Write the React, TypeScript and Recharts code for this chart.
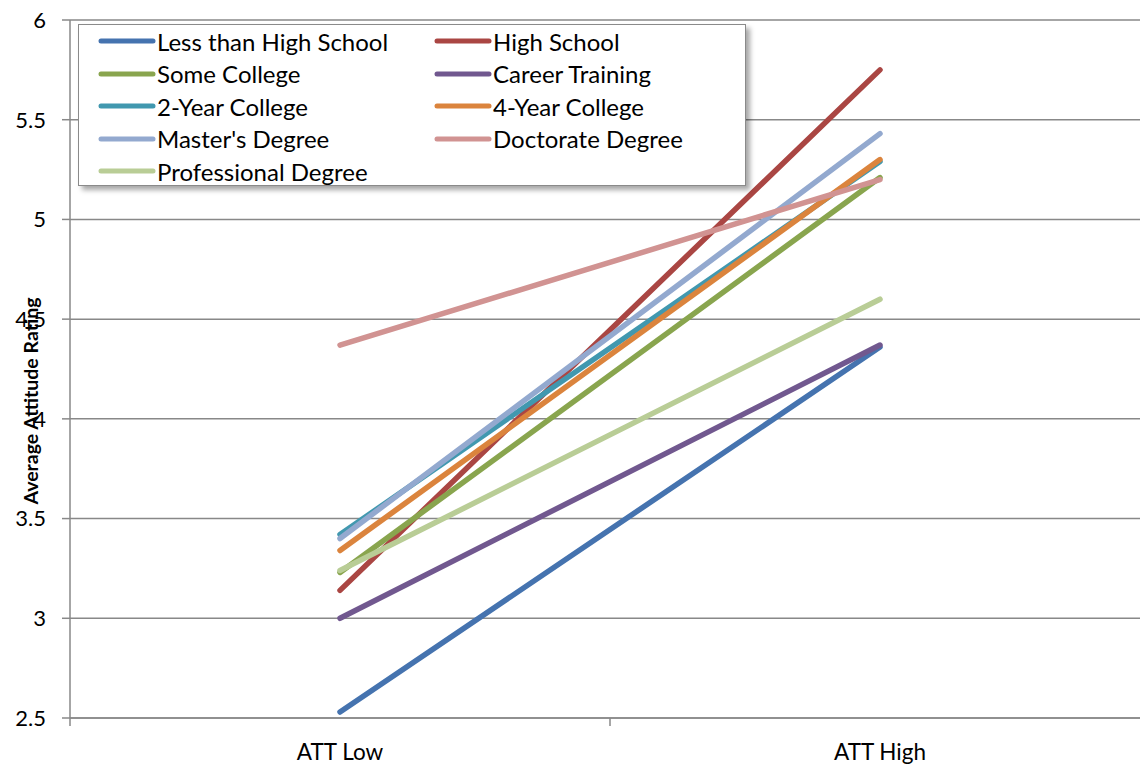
import React from "react";
import { LineChart, Line, XAxis, YAxis, CartesianGrid, Legend } from "recharts";

const categories = ["ATT Low", "ATT High"];
const yTicks = [2.5, 3, 3.5, 4, 4.5, 5, 5.5, 6];

const lessThanHS = [2.53, 4.36];
const highSchool = [3.14, 5.75];
const someCollege = [3.23, 5.21];
const careerTraining = [3.0, 4.37];
const twoYearCollege = [3.42, 5.29];
const fourYearCollege = [3.34, 5.3];
const mastersDegree = [3.4, 5.43];
const doctorateDegree = [4.37, 5.2];
const professionalDegree = [3.24, 4.6];

const seriesNames = [
  "Less than High School",
  "High School",
  "Some College",
  "Career Training",
  "2-Year College",
  "4-Year College",
  "Master's Degree",
  "Doctorate Degree",
  "Professional Degree",
];
const seriesValues = [
  lessThanHS,
  highSchool,
  someCollege,
  careerTraining,
  twoYearCollege,
  fourYearCollege,
  mastersDegree,
  doctorateDegree,
  professionalDegree,
];
const seriesColors = [
  "#4573AF",
  "#AA4643",
  "#89A54E",
  "#71588F",
  "#4198AF",
  "#DB843D",
  "#93A9CF",
  "#D19392",
  "#B9CD96",
];

const data = categories.map((c, i) => {
  const row: Record<string, string | number> = { category: c };
  seriesNames.forEach((n, s) => {
    row[n] = seriesValues[s][i];
  });
  return row;
});

const FONT = "Lato, 'Liberation Sans', sans-serif";
const CHART_W = 1160;
const CHART_H = 767;
const MARGIN = { top: 20, right: 10, left: 0, bottom: 0 };
const Y_W = 70;
const PLOT_W = CHART_W - MARGIN.left - MARGIN.right - Y_W;
const HALF_BAND = PLOT_W / categories.length / 2;

const XTick = (props: any) => {
  const { x, y, payload } = props;
  return (
    <g>
      <line x1={x - HALF_BAND} x2={x - HALF_BAND} y1={y - 8} y2={y} stroke="#888" strokeWidth={1.5} />
      <text x={x} y={y + 34} textAnchor="middle" fontSize={22.5} fontFamily={FONT} fill="#000">
        {payload.value}
      </text>
    </g>
  );
};

const LegendBox = () => {
  return (
    <div
      style={{
        width: 668,
        height: 162,
        background: "#fff",
        border: "1px solid #8a8a8a",
        boxShadow: "4px 4px 5px rgba(0,0,0,0.35)",
        boxSizing: "border-box",
        display: "grid",
        gridTemplateColumns: "336px 300px",
        gridAutoRows: "32.5px",
        paddingTop: 0,
        paddingLeft: 19,
        fontFamily: FONT,
        fontSize: 24,
        color: "#000",
      }}
    >
      {seriesNames.map((n, i) => (
        <div key={n} style={{ display: "flex", alignItems: "center", whiteSpace: "nowrap" }}>
          <svg width={58} height={10} style={{ marginRight: 1 }}>
            <line x1={3} x2={55} y1={5} y2={5} stroke={seriesColors[i]} strokeWidth={5} strokeLinecap="round" />
          </svg>
          <span>{n}</span>
        </div>
      ))}
    </div>
  );
};

const YLabel = (props: any) => {
  const vb = props.viewBox || { x: 0, y: 0, width: 0, height: 0 };
  const cx = vb.x + 30;
  const cy = vb.y + vb.height / 2 + 32;
  return (
    <text
      x={cx}
      y={cy}
      transform={`rotate(-90, ${cx}, ${cy})`}
      textAnchor="middle"
      dominantBaseline="central"
      fontSize={19.5}
      fontWeight="bold"
      fontFamily={FONT}
      fill="#000"
    >
      Average Attitude Rating
    </text>
  );
};

export default function App() {
  return (
    <div style={{ position: "absolute", left: 0, top: 0, width: 1140, height: 767, overflow: "hidden", background: "#fff" }}>
      <LineChart width={CHART_W} height={CHART_H} data={data} margin={MARGIN}>
        <CartesianGrid horizontal vertical={false} stroke="#888" strokeWidth={1.5} />
        <XAxis
          dataKey="category"
          scale="band"
          height={49}
          axisLine={{ stroke: "#888", strokeWidth: 1.5 }}
          tickLine={false}
          tick={<XTick />}
          interval={0}
        />
        <YAxis
          width={Y_W}
          domain={[2.5, 6]}
          ticks={yTicks}
          type="number"
          allowDataOverflow
          axisLine={{ stroke: "#888", strokeWidth: 1.5 }}
          tickLine={{ stroke: "#888", strokeWidth: 1.5 }}
          tickSize={8}
          tickMargin={16}
          tick={{ fontSize: 22, fontFamily: FONT, fill: "#000" }}
          label={<YLabel />}
        />
        <Legend
          layout="horizontal"
          verticalAlign="middle"
          align="center"
          content={<LegendBox />}
          wrapperStyle={{ left: 78, top: 24, width: 668, height: 162 }}
        />
        {seriesNames.map((n, i) => (
          <Line
            key={n}
            dataKey={n}
            name={n}
            stroke={seriesColors[i]}
            strokeWidth={5.5}
            strokeLinecap="round"
            dot={false}
            activeDot={false}
            isAnimationActive={false}
          />
        ))}
      </LineChart>
    </div>
  );
}
